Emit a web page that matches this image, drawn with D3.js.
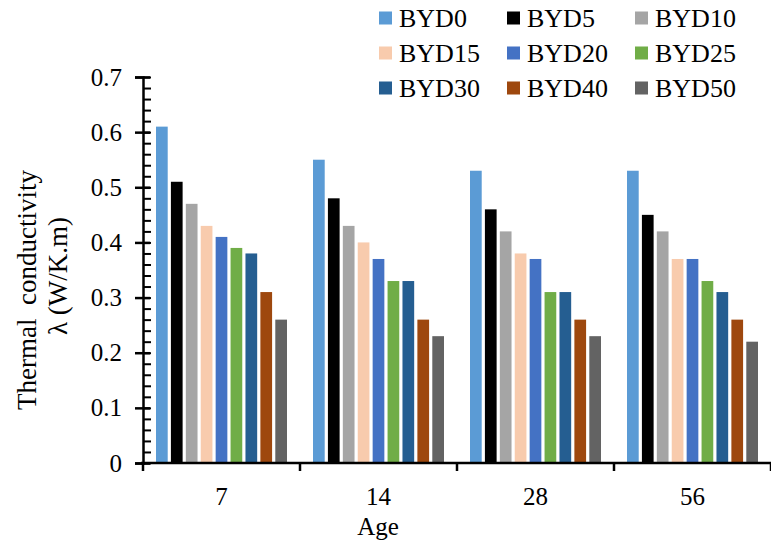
<!DOCTYPE html>
<html>
<head>
<meta charset="utf-8">
<script src="https://cdn.jsdelivr.net/npm/d3@7"></script>
<style>
  html, body { margin: 0; padding: 0; background: #fff; }
  svg { display: block; }
</style>
</head>
<body>
<script>
const ages = ["7", "14", "28", "56"];
const series = ["BYD0", "BYD5", "BYD10", "BYD15", "BYD20", "BYD25", "BYD30", "BYD40", "BYD50"];
const BYD0  = [0.61, 0.55, 0.53, 0.53];
const BYD5  = [0.51, 0.48, 0.46, 0.45];
const BYD10 = [0.47, 0.43, 0.42, 0.42];
const BYD15 = [0.43, 0.40, 0.38, 0.37];
const BYD20 = [0.41, 0.37, 0.37, 0.37];
const BYD25 = [0.39, 0.33, 0.31, 0.33];
const BYD30 = [0.38, 0.33, 0.31, 0.31];
const BYD40 = [0.31, 0.26, 0.26, 0.26];
const BYD50 = [0.26, 0.23, 0.23, 0.22];
const values = [BYD0, BYD5, BYD10, BYD15, BYD20, BYD25, BYD30, BYD40, BYD50];
const colors = ["#5B9BD5", "#000000", "#A5A5A5", "#F8CBAD", "#4472C4", "#70AD47", "#255E91", "#9E480E", "#636363"];
const yTicks = [0, 0.1, 0.2, 0.3, 0.4, 0.5, 0.6, 0.7];

const FONT = "Liberation Serif";
const W = 771, H = 546;
const svg = d3.select("body").append("svg").attr("width", W).attr("height", H)
  .attr("font-family", FONT);

const x0 = d3.scaleBand().domain(ages).range([143, 771]).paddingInner(0).paddingOuter(0);
const groupPad = 13;
const x1 = d3.scaleBand().domain(series)
  .range([groupPad, x0.bandwidth() - groupPad]).paddingInner(0.215).paddingOuter(0);
const y = d3.scaleLinear().domain([0, 0.7]).range([463, 77]);

// bars
series.forEach((s, si) => {
  svg.append("g").selectAll("rect")
    .data(ages.map((a, ai) => ({ age: a, v: values[si][ai] })))
    .join("rect")
    .attr("x", d => x0(d.age) + x1(s))
    .attr("width", x1.bandwidth())
    .attr("y", d => y(d.v))
    .attr("height", d => y(0) - y(d.v))
    .attr("fill", colors[si]);
});

// y axis minor ticks
const minor = d3.range(0, 0.7001, 0.02);
const yMinor = d3.axisRight(y).tickValues(minor).tickSize(8).tickFormat("");
const gm = svg.append("g").attr("transform", "translate(143,0)").call(yMinor);
gm.select(".domain").remove();
gm.selectAll("line").attr("stroke", "#000").attr("stroke-width", 2);

// y axis major
const yAxis = d3.axisLeft(y).tickValues(yTicks).tickSize(8).tickPadding(13)
  .tickFormat(d => d === 0 ? "0" : d3.format(".1f")(d));
const gy = svg.append("g").attr("transform", "translate(143,0)").call(yAxis)
  .attr("font-family", FONT).attr("font-size", 25);
gy.select(".domain").attr("stroke", "#000").attr("stroke-width", 2.5);
gy.selectAll("line").attr("stroke", "#000").attr("stroke-width", 2.5).attr("x2", -8).attr("x1", 7);
gy.selectAll("text").attr("fill", "#000").style("font-family", FONT).style("font-size", "25px");

// x axis
const bounds = ages.map(a => x0(a)).concat([x0(ages[ages.length - 1]) + x0.bandwidth()]);
const gx = svg.append("g").attr("transform", "translate(0,463)");
gx.append("line").attr("x1", 141).attr("x2", 771).attr("y1", 0).attr("y2", 0)
  .attr("stroke", "#000").attr("stroke-width", 2.5);
gx.selectAll("line.tk").data(bounds).join("line").attr("class", "tk")
  .attr("x1", d => d).attr("x2", d => d).attr("y1", 0).attr("y2", 8)
  .attr("stroke", "#000").attr("stroke-width", 2.5);
gx.selectAll("text").data(ages).join("text")
  .attr("x", d => x0(d) + x0.bandwidth() / 2)
  .attr("y", 42)
  .attr("text-anchor", "middle")
  .style("font-family", FONT).style("font-size", "25px")
  .text(d => d);

// axis titles
svg.append("text").attr("x", 378).attr("y", 535).attr("text-anchor", "middle")
  .style("font-family", FONT).style("font-size", "25px").text("Age");
const yt = svg.append("text").attr("transform", "rotate(-90)")
  .attr("text-anchor", "middle").style("font-family", FONT).style("font-size", "27px");
yt.append("tspan").attr("x", -290).attr("y", 36).text("Thermal\u00A0\u00A0conductivity");
yt.append("tspan").attr("x", -276).attr("y", 67).text("λ (W/K.m)");

// legend
const cols = [379, 507, 635], rows = [18, 53, 88];
series.forEach((s, i) => {
  const cx = cols[i % 3], cy = rows[Math.floor(i / 3)];
  const g = svg.append("g");
  g.append("rect").attr("x", cx).attr("y", cy - 6.5).attr("width", 13).attr("height", 13).attr("fill", colors[i]);
  g.append("text").attr("x", cx + 20).attr("y", cy).attr("dy", "0.35em")
    .style("font-family", FONT).style("font-size", "26px").text(s);
});
</script>
</body>
</html>
